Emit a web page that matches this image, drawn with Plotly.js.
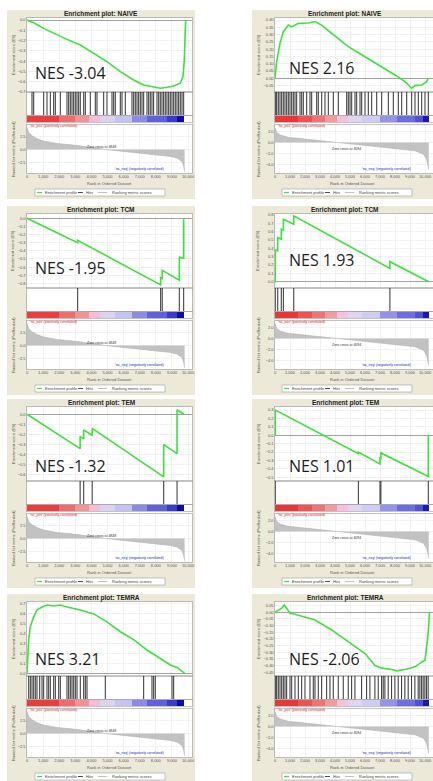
<!DOCTYPE html>
<html><head><meta charset="utf-8">
<script src="https://cdn.plot.ly/plotly-3.0.1.min.js"></script>
<style>html,body{margin:0;padding:0;background:#fff}#chart{width:433px;height:781px}</style>
</head><body><div id="chart"></div>
<script>
// ---------------- DATA ----------------
const panelTitles = ['NAIVE','NAIVE','TCM','TCM','TEM','TEM','TEMRA','TEMRA'];
const nesLabels = ['NES -3.04','NES 2.16','NES -1.95','NES 1.93','NES -1.32','NES 1.01','NES 3.21','NES -2.06'];
const zeroCrossLabels = ['Zero cross at 4848','Zero cross at 4094'];
const posLabel = "'na_pos' (positively correlated)";
const negLabel = "'na_neg' (negatively correlated)";
const legendLabels = ['Enrichment profile','Hits','Ranking metric scores'];
const xTitle = 'Rank in Ordered Dataset';
const esTitle = 'Enrichment score (ES)';
const metricTitle = 'Ranked list metric (PreRanked)';

// running enrichment score (rank, ES)
const naiveLeftRank = [0,414,1035,1656,2484,3312,4140,4968,5796,6624,7245,7866,8280,8694,9108,9522,9688,9770,9812,9853];
const naiveLeftES   = [0,-0.026,-0.081,-0.13,-0.188,-0.243,-0.324,-0.405,-0.502,-0.583,-0.631,-0.654,-0.663,-0.654,-0.641,-0.615,-0.55,-0.388,-0.194,0];
const naiveRightRank = [0,111,333,556,889,1111,1556,2222,2667,3111,3778,4889,6000,7111,8000,8667,9111,9333,9778,10111,10222];
const naiveRightES   = [0,0.115,0.24,0.32,0.365,0.353,0.377,0.38,0.39,0.365,0.308,0.217,0.148,0.08,0.023,-0.023,-0.068,-0.05,-0.046,-0.023,0.002];
const tcmLeftRank = [0,3146,3146,8300,8300,8400,8400,9460,9460,9730,9730];
const tcmLeftES   = [0,-0.30,-0.27,-0.82,-0.73,-0.74,-0.64,-0.76,-0.48,-0.49,0];
const tcmRightRank = [0,20,20,180,180,420,420,560,560,1250,1250,7660,7660,10250];
const tcmRightES   = [0,0,0.38,0.37,0.53,0.51,0.63,0.62,0.75,0.69,0.79,0.16,0.24,0];
const temLeftRank = [0,3300,3300,3520,3520,4050,4050,8490,8490,9320,9320,9760];
const temLeftES   = [0,-0.34,-0.22,-0.245,-0.155,-0.21,-0.14,-0.62,-0.30,-0.39,0.045,0];
const temRightRank = [0,20,20,5560,5560,7000,7000,7060,7060,10220,10220,10260];
const temRightES   = [0,0,0.30,-0.22,-0.20,-0.34,-0.27,-0.275,-0.21,-0.49,0,0];
const temraLeftRank = [0,50,104,207,414,621,932,1242,1656,2070,2484,3312,4140,4968,5796,6624,7452,8280,8901,9315,9729,9800];
const temraLeftES   = [0,0.17,0.34,0.47,0.57,0.64,0.67,0.69,0.68,0.69,0.67,0.64,0.60,0.52,0.42,0.34,0.235,0.15,0.084,0.06,0.016,0];
const temraRightRank = [0,444,622,777,1000,1332,2667,3778,4889,6000,6667,7111,7778,8111,8667,9333,9778,10000,10111,10222,10300];
const temraRightES   = [0,0.03,0.055,0.03,-0.008,-0.015,-0.058,-0.133,-0.22,-0.31,-0.40,-0.42,-0.43,-0.44,-0.43,-0.41,-0.375,-0.36,-0.26,-0.14,0];

// hit positions (rank)
const naiveLeftHits = [310,414,1035,1242,1449,1656,1760,2070,2484,2588,2691,2795,2898,3002,3105,3209,3312,3519,3623,3933,4244,4347,4761,4968,5279,5382,5486,5796,5900,6107,6521,6624,6728,6831,6935,7038,7142,7245,7452,7556,7659,7763,7866,8073,8177,8280,8384,8487,8591,8694,8798,8901,9005,9108,9212,9315,9419,9522,9626,9729];
const naiveRightHits = [44,111,222,333,444,556,667,778,889,1000,1111,1222,1333,1444,1667,1778,1889,2111,2333,2444,2778,2889,3111,3333,3556,3889,4222,4778,4889,5000,5111,5333,5444,5667,5778,6000,6222,6444,6778,7111,7556,7889,8222,8444,8778,9111,9333,9556,9778,10000,10222];
const tcmLeftHits = [3146,8300,8400,9460,9730];
const tcmRightHits = [20,180,420,560,1250,7660];
const temLeftHits = [3300,3520,4050,8490,9320];
const temRightHits = [20,5560,7000,7060,10220];
const temraLeftHits = [104,207,311,414,518,621,787,932,1035,1242,1346,1449,1656,1760,1967,2070,2484,2588,2691,2795,2898,3002,3105,3312,3519,3623,3726,4865,7245,7763,7866,7970,9005,9108];
const temraRightHits = [44,111,222,333,444,555,666,777,999,1110,1332,1554,1776,1998,2331,2553,2664,2886,3108,3441,3663,3885,4218,4551,4884,5106,5328,5772,6105,6327,6660,6882,7104,7215,7326,7548,7770,7992,8214,8436,8658,8880,9102,9324,9546,9657,9768,9879,9990,10101,10212];

// ranked list metric (rank, value)
const metricRankLeft = [0,100,310,620,1035,1860,2900,3930,4550,4848,6000,7040,8070,8900,9315,9630,9730,9790];
const metricValLeft  = [4.2,3.2,2.6,2.05,1.6,1.15,0.83,0.5,0.2,0,-0.33,-0.64,-0.96,-1.3,-1.6,-2.25,-3.2,-4.2];
const metricRankRight = [0,111,333,889,2000,3111,4094,5333,6667,8000,9333,9889,10111,10250];
const metricValRight  = [2.7,1.8,1.33,0.9,0.6,0.3,0,-0.42,-0.73,-1.03,-1.5,-2.1,-3.0,-4.85];

// colour bar blocks (rank edges) and colours
const cbEdgesLeft = [0,1970,3000,3830,4550,5490,6520,7450,8690,9320,9770];
const cbColorsLeft = ['#ee3b3b','#f26a6a','#f59393','#f4bcd6','#dcd3f1','#c4c3f1','#8a8ae9','#5f5fe0','#3a3ad3','#0c0ca6'];
const cbEdgesRight = [0,1560,2440,3330,4110,4890,5780,7000,8110,9330,9890,10250];
const cbColorsRight = ['#ee3535','#f05252','#f27272','#f59a9a','#f5c2dc','#e2d4f2','#cfcdf3','#9393ee','#6c6ce8','#5050e0','#1a1ab0'];

// ---------------- LAYOUT ----------------
const W = 433, H = 781;
const fx = p => p / W;
const fy = p => 1 - p / H;
const rowTop = [18, 214, 407, 602];
const colGeom = [
  {boxL:7, boxR:195, plotL:27, plotR:192, pxPerRank:0.0161, yTitleX:13, legL:35, nesX:33, titleX:101, negR:166, zcX:101, zcY:129,
   metricRange:[-4.4,4.6], metricTicks:[-2.5,0,2.5]},
  {boxL:252, boxR:440, plotL:275, plotR:433, pxPerRank:0.015, yTitleX:258, legL:282, nesX:287, titleX:345, negR:413, zcX:346, zcY:131,
   metricRange:[-5.45,3.1], metricTicks:[-4,-2,0,2]}
];
const esCfg = [
  {range:[-0.70,0.02], dtick:0.1, fmt:'.1f', nesOff:55},
  {range:[-0.094,0.414], dtick:0.05, fmt:'.2f', nesOff:50},
  {range:[-0.857,0.053], dtick:0.1, fmt:'.1f', nesOff:54},
  {range:[-0.076,0.812], dtick:0.1, fmt:'.1f', nesOff:46},
  {range:[-0.66,0.072], dtick:0.1, fmt:'.1f', nesOff:59},
  {range:[-0.544,0.336], dtick:0.1, fmt:'.1f', nesOff:59},
  {range:[-0.027,0.72], dtick:0.1, fmt:'.1f', nesOff:57},
  {range:[-0.479,0.077], dtick:0.05, fmt:'.2f', nesOff:57}
];
const esRanks = [naiveLeftRank,naiveRightRank,tcmLeftRank,tcmRightRank,temLeftRank,temRightRank,temraLeftRank,temraRightRank];
const esScores = [naiveLeftES,naiveRightES,tcmLeftES,tcmRightES,temLeftES,temRightES,temraLeftES,temraRightES];
const hitsAll = [naiveLeftHits,naiveRightHits,tcmLeftHits,tcmRightHits,temLeftHits,temRightHits,temraLeftHits,temraRightHits];
const metricRanks = [metricRankLeft, metricRankRight];
const metricVals = [metricValLeft, metricValRight];
const cbEdges = [cbEdgesLeft, cbEdgesRight];
const cbColors = [cbColorsLeft, cbColorsRight];

const FONT = 'Liberation Sans, Arial, sans-serif';
const traces = [];
const layout = {
  width: W, height: H, margin: {l:0, r:0, t:0, b:0},
  paper_bgcolor: '#ffffff', plot_bgcolor: 'rgba(0,0,0,0)', showlegend: false,
  font: {family: FONT, color: '#444', size: 4},
  shapes: [], annotations: []
};
const axRef = (k, a) => a + (k === 1 ? '' : k);
const axKey = (k, a) => a + 'axis' + (k === 1 ? '' : k);
function ann(x, y, text, size, extra) {
  return Object.assign({xref:'paper', yref:'paper', x: fx(x), y: fy(y), text: text, showarrow: false,
    font: {size: size, color: '#333', family: FONT}, xanchor: 'center', yanchor: 'middle'}, extra || {});
}
function rect(x0, x1, y0, y1, fill, line) {
  return {type:'rect', xref:'paper', yref:'paper', x0: fx(x0), x1: fx(x1), y0: fy(y1), y1: fy(y0),
    fillcolor: fill, line: line || {width: 0}, layer: 'below'};
}
function hline(x0, x1, y, color, w) {
  return {type:'line', xref:'paper', yref:'paper', x0: fx(x0), x1: fx(x1), y0: fy(y), y1: fy(y),
    line: {color: color, width: w}};
}

for (let p = 0; p < 8; p++) {
  const c = p % 2, r = Math.floor(p / 2), E = rowTop[r], C = colGeom[c], cfg = esCfg[p];
  const xmax = (C.plotR - C.plotL) / C.pxPerRank;
  const xd = [fx(C.plotL), Math.min(1, fx(C.plotR))];
  layout.shapes.push(rect(C.boxL, C.boxR, E - 8, E + 181, '#ece9d9'));
  layout.shapes.push(rect(C.plotL, C.plotR, E, E + 155, '#ffffff'));
  const bands = [[E, E + 74], [E + 74, E + 97], [E + 98, E + 104], [E + 107, E + 155]];
  for (let j = 0; j < 4; j++) {
    const k = 4 * p + j + 1;
    const xa = {domain: xd, range: [0, xmax], anchor: axRef(k, 'y'), showline: true, mirror: true,
      linecolor: '#9a9a9a', linewidth: 0.6, zeroline: false, showgrid: (j === 0 || j === 3),
      gridcolor: '#e6e6e6', gridwidth: 0.5, tick0: 0, dtick: 1000, ticks: '',
      showticklabels: j === 3, tickfont: {size: 4, color: '#555', family: FONT}, tickformat: ',d', fixedrange: true};
    const ya = {domain: [fy(bands[j][1]), fy(bands[j][0])], anchor: axRef(k, 'x'), showline: true, mirror: true,
      linecolor: '#9a9a9a', linewidth: 0.6, zeroline: false, showgrid: false, ticks: '',
      showticklabels: false, tickfont: {size: 4, color: '#555', family: FONT}, fixedrange: true, range: [0, 1]};
    if (j === 0) {
      Object.assign(ya, {range: cfg.range, tick0: 0, dtick: cfg.dtick, tickformat: cfg.fmt, showticklabels: true,
        showgrid: true, gridcolor: '#e6e6e6', gridwidth: 0.5, zeroline: true, zerolinecolor: '#7a7a7a', zerolinewidth: 0.7});
    }
    if (j === 3) {
      Object.assign(ya, {range: C.metricRange, tickvals: C.metricTicks, tickformat: '.1f', showticklabels: true,
        showgrid: true, gridcolor: '#e6e6e6', gridwidth: 0.5});
    }
    layout[axKey(k, 'x')] = xa;
    layout[axKey(k, 'y')] = ya;
  }
  const k0 = 4 * p + 1;
  traces.push({type:'scatter', mode:'lines', x: esRanks[p], y: esScores[p], xaxis: axRef(k0, 'x'), yaxis: axRef(k0, 'y'),
    line: {color: '#3de23d', width: 1.6}, hoverinfo: 'skip'});
  const hx = [], hy = [];
  hitsAll[p].forEach(h => { hx.push(h, h, null); hy.push(0, 1, null); });
  traces.push({type:'scatter', mode:'lines', x: hx, y: hy, xaxis: axRef(k0 + 1, 'x'), yaxis: axRef(k0 + 1, 'y'),
    line: {color: 'rgba(20,20,20,0.8)', width: 1.1}, hoverinfo: 'skip'});
  const cols = cbColors[c], n = cols.length;
  traces.push({type:'heatmap', x: cbEdges[c], y: [0, 1], z: [cols.map((_, i) => i)], zmin: 0, zmax: n - 1,
    colorscale: cols.map((col, i) => [i / (n - 1), col]), showscale: false, hoverinfo: 'skip',
    xaxis: axRef(k0 + 2, 'x'), yaxis: axRef(k0 + 2, 'y')});
  traces.push({type:'scatter', mode:'lines', x: metricRanks[c], y: metricVals[c], fill: 'tozeroy',
    fillcolor: '#c2c2c2', line: {color: '#aaaaaa', width: 0.5}, xaxis: axRef(k0 + 3, 'x'), yaxis: axRef(k0 + 3, 'y'),
    hoverinfo: 'skip'});

  layout.annotations.push(ann(C.titleX, E - 4, '<b>Enrichment plot: ' + panelTitles[p] + '</b>', 6.5, {font: {size: 6.5, color: '#222', family: FONT}}));
  layout.annotations.push(ann(C.nesX, E + cfg.nesOff, nesLabels[p], 16, {xanchor: 'left', font: {size: 16, color: '#1e1e1e', family: 'Open Sans'}}));
  layout.annotations.push(ann(C.yTitleX, E + 37, esTitle, 4, {textangle: -90, font: {size: 4, color: '#555', family: FONT}}));
  layout.annotations.push(ann(C.yTitleX, E + 131, metricTitle, 4, {textangle: -90, font: {size: 4, color: '#555', family: FONT}}));
  layout.annotations.push(ann(C.plotL + 1, E + 108, posLabel, 3.5, {xanchor: 'left', font: {size: 3.5, color: '#e02020', family: FONT}}));
  layout.annotations.push(ann(C.negR, E + 151, negLabel, 3.5, {xanchor: 'right', font: {size: 3.5, color: '#2020d0', family: FONT}}));
  layout.annotations.push(ann(C.zcX, E + C.zcY, zeroCrossLabels[c], 3.5, {font: {size: 3.5, color: '#333', family: FONT}}));
  layout.annotations.push(ann((C.plotL + Math.min(C.plotR, 430)) / 2, E + 165, xTitle, 4, {font: {size: 4, color: '#555', family: FONT}}));
  const L = C.legL, ly = E + 174.5;
  layout.shapes.push(rect(L, L + 130, E + 171, E + 178, '#ffffff', {color: '#a0a0a0', width: 0.6}));
  layout.shapes.push(hline(L + 2, L + 7, ly, '#3de23d', 1.2));
  layout.shapes.push(hline(L + 43, L + 48, ly, '#222', 0.8));
  layout.shapes.push(hline(L + 63, L + 72, ly, '#b0b0b0', 0.8));
  layout.annotations.push(ann(L + 8, ly, legendLabels[0], 4, {xanchor: 'left', font: {size: 4, color: '#444', family: FONT}}));
  layout.annotations.push(ann(L + 49, ly, legendLabels[1], 4, {xanchor: 'left', font: {size: 4, color: '#444', family: FONT}}));
  layout.annotations.push(ann(L + 75, ly, legendLabels[2], 4, {xanchor: 'left', font: {size: 4, color: '#444', family: FONT}}));
}

Plotly.newPlot('chart', traces, layout, {staticPlot: true, displayModeBar: false});
</script>
</body></html>
